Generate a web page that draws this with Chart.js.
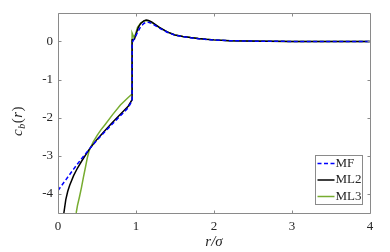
<!DOCTYPE html>
<html>
<head>
<meta charset="utf-8">
<script src="https://cdn.jsdelivr.net/npm/chart.js@4.4.0/dist/chart.umd.min.js"></script>
<style>
  html, body { margin: 0; padding: 0; background: #fff; }
</style>
</head>
<body>
<canvas id="cb" width="390" height="252"></canvas>
<script>
// values
const seriesNames = ['MF', 'ML2', 'ML3'];

const rMF = [0, 0.1, 0.2, 0.3, 0.4, 0.5, 0.6, 0.7, 0.8, 0.9, 0.95, 0.95, 0.98, 1.0, 1.03, 1.06, 1.1, 1.13, 1.16, 1.2, 1.3, 1.4, 1.5, 1.6, 1.7, 1.8, 1.9, 2.0, 2.2, 2.4, 2.7, 3.0, 4.0];
const cMF = [-3.91, -3.63, -3.35, -3.08, -2.83, -2.59, -2.37, -2.16, -1.95, -1.74, -1.55, -0.03, 0.08, 0.16, 0.28, 0.39, 0.47, 0.5, 0.5, 0.47, 0.35, 0.24, 0.165, 0.125, 0.095, 0.07, 0.052, 0.038, 0.02, 0.01, 0.003, 0, 0];

const rML2 = [0.075, 0.1, 0.125, 0.15, 0.2, 0.25, 0.3, 0.4, 0.5, 0.6, 0.7, 0.8, 0.9, 0.95, 0.95, 0.98, 1.0, 1.03, 1.06, 1.1, 1.13, 1.16, 1.2, 1.3, 1.4, 1.5, 1.6, 1.7, 1.8, 1.9, 2.0, 2.2, 2.4, 2.7, 3.0, 4.0];
const cML2 = [-4.5, -4.15, -3.93, -3.77, -3.52, -3.32, -3.15, -2.83, -2.57, -2.34, -2.12, -1.91, -1.7, -1.53, 0.04, 0.06, 0.19, 0.37, 0.47, 0.54, 0.56, 0.55, 0.51, 0.37, 0.25, 0.17, 0.13, 0.1, 0.075, 0.055, 0.04, 0.02, 0.01, 0.003, 0, 0];

const rML3 = [0.233, 0.25, 0.275, 0.3, 0.325, 0.35, 0.375, 0.4, 0.45, 0.5, 0.55, 0.6, 0.7, 0.8, 0.9, 0.95, 0.95, 0.97, 0.99, 1.02, 1.06, 1.1, 1.13, 1.16, 1.2, 1.3, 1.4, 1.5, 1.6, 1.7, 1.8, 1.9, 2.0, 2.2, 2.4, 2.7, 3.0, 4.0];
const cML3 = [-4.5, -4.3, -4.08, -3.84, -3.57, -3.32, -3.06, -2.86, -2.64, -2.47, -2.32, -2.19, -1.92, -1.67, -1.47, -1.38, 0.22, 0.12, 0.17, 0.37, 0.48, 0.53, 0.545, 0.54, 0.5, 0.36, 0.25, 0.17, 0.13, 0.1, 0.075, 0.055, 0.04, 0.02, 0.01, 0.003, 0, 0];

const xTicks = [0, 1, 2, 3, 4];
const yTicks = [-4, -3, -2, -1, 0];
const xLabel = 'r/σ';

const AXIS = '#8a8a8a';
const TEXT = '#262626';
const SERIF = '"Liberation Serif", "DejaVu Serif", serif';

const pts = (rs, cs) => rs.map((r, i) => ({ x: r, y: cs[i] }));

// box, inward ticks, axis titles and the legend (drawn inside the axes like matlab)
const decor = {
  id: 'decor',
  afterDraw(chart) {
    const ctx = chart.ctx;
    const a = chart.chartArea;
    const sx = chart.scales.x, sy = chart.scales.y;
    const L = Math.round(a.left) + 0.5, R = Math.round(a.right) + 0.5;
    const T = Math.round(a.top) + 0.5, B = Math.round(a.bottom) + 0.5;
    ctx.save();
    ctx.strokeStyle = AXIS;
    ctx.lineWidth = 1;
    ctx.beginPath();
    ctx.rect(L, T, R - L, B - T);
    xTicks.forEach(v => {
      const p = Math.round(sx.getPixelForValue(v)) + 0.5;
      ctx.moveTo(p, B); ctx.lineTo(p, B - 3);
      ctx.moveTo(p, T); ctx.lineTo(p, T + 3);
    });
    yTicks.forEach(v => {
      const p = Math.round(sy.getPixelForValue(v)) + 0.5;
      ctx.moveTo(L, p); ctx.lineTo(L + 3, p);
      ctx.moveTo(R, p); ctx.lineTo(R - 3, p);
    });
    ctx.stroke();

    // x title
    ctx.fillStyle = TEXT;
    ctx.textAlign = 'center';
    ctx.textBaseline = 'middle';
    ctx.font = 'italic 15px ' + SERIF;
    ctx.fillText(xLabel, (a.left + a.right) / 2, 242);

    // y title  c_b(r)
    ctx.save();
    ctx.translate(18, 121);
    ctx.rotate(-Math.PI / 2);
    ctx.textAlign = 'left';
    const parts = [
      { t: 'c', f: 'italic 15px ' + SERIF, dy: 0 },
      { t: 'b', f: 'italic 10px ' + SERIF, dy: 4 },
      { t: '(', f: '15px ' + SERIF, dy: 0 },
      { t: 'r', f: 'italic 15px ' + SERIF, dy: 0 },
      { t: ')', f: '15px ' + SERIF, dy: 0 }
    ];
    let w = 0;
    parts.forEach(p => { ctx.font = p.f; p.w = ctx.measureText(p.t).width; w += p.w + 0.5; });
    let x0 = -w / 2;
    parts.forEach(p => { ctx.font = p.f; ctx.fillText(p.t, x0, p.dy); x0 += p.w + 0.5; });
    ctx.restore();

    // legend
    const lw = 47, lh = 49;
    const lx = Math.round(a.right - 8 - lw) + 0.5, ly = Math.round(a.bottom - 9 - lh) + 0.5;
    ctx.fillStyle = '#fff';
    ctx.fillRect(lx, ly, lw, lh);
    ctx.strokeStyle = AXIS;
    ctx.strokeRect(lx, ly, lw, lh);
    ctx.font = '13px ' + SERIF;
    ctx.textAlign = 'left';
    chart.data.datasets.forEach((d, i) => {
      const y = ly + 8 + i * 16.5;
      ctx.strokeStyle = d.borderColor;
      ctx.lineWidth = d.borderWidth;
      ctx.setLineDash(d.borderDash || []);
      ctx.beginPath();
      ctx.moveTo(lx + 2, y); ctx.lineTo(lx + 19, y);
      ctx.stroke();
      ctx.setLineDash([]);
      ctx.fillStyle = TEXT;
      ctx.fillText(d.label, lx + 20, y);
    });
    ctx.restore();
  }
};

const data = {
  datasets: [
    {
      label: seriesNames[0],
      data: pts(rMF, cMF),
      borderColor: '#0000ff',
      borderDash: [4, 2.5],
      borderWidth: 1.5
    },
    {
      label: seriesNames[1],
      data: pts(rML2, cML2),
      borderColor: '#000000',
      borderWidth: 1.5
    },
    {
      label: seriesNames[2],
      data: pts(rML3, cML3),
      borderColor: '#77ac30',
      borderWidth: 1.5
    }
  ]
};

const config = {
  type: 'line',
  data,
  options: {
    responsive: false,
    animation: false,
    devicePixelRatio: 1,
    layout: { padding: { top: 12, right: 20, left: 0, bottom: 0 } },
    elements: { point: { radius: 0 }, line: { tension: 0, fill: false } },
    plugins: { legend: { display: false }, tooltip: { enabled: false } },
    scales: {
      x: {
        type: 'linear',
        min: 0,
        max: 4,
        afterBuildTicks: s => { s.ticks = xTicks.map(v => ({ value: v })); },
        afterFit: s => { s.height = 39; },
        grid: { display: false, drawTicks: false },
        border: { display: false },
        ticks: { padding: 6, color: TEXT, font: { family: SERIF, size: 13 }, maxRotation: 0 }
      },
      y: {
        type: 'linear',
        min: -4.5,
        max: 0.75,
        afterBuildTicks: s => { s.ticks = yTicks.map(v => ({ value: v })); },
        afterFit: s => { s.width = 58; },
        grid: { display: false, drawTicks: false },
        border: { display: false },
        ticks: { padding: 5, color: TEXT, font: { family: SERIF, size: 13 } }
      }
    }
  },
  plugins: [decor]
};

const myChart = new Chart(document.getElementById('cb'), config);
</script>
</body>
</html>
